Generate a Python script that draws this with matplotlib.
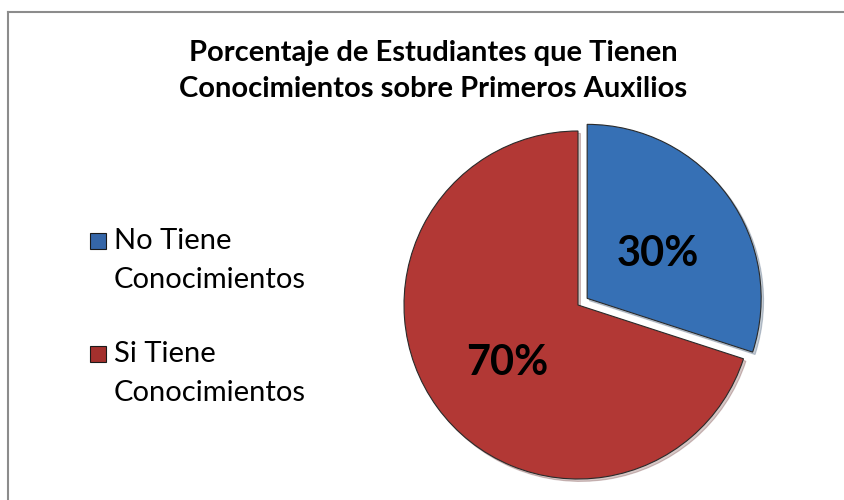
import matplotlib.pyplot as plt
from matplotlib.patches import Rectangle
from matplotlib.lines import Line2D

# data
labels = ['No Tiene\nConocimientos', 'Si Tiene\nConocimientos']
values = [30, 70]
colors = ['#3670B5', '#B23835']
legend_colors = ['#3566A8', '#A3302D']
title = 'Porcentaje de Estudiantes que Tienen\nConocimientos sobre Primeros Auxilios'

plt.rcParams['font.family'] = ['Lato', 'DejaVu Sans']

W, H = 844, 500
fig = plt.figure(figsize=(W / 100, H / 100), dpi=100)

# frame (only top and left are visible in the crop)
fig.add_artist(Line2D([8 / W, 8 / W], [0, 1 - 12 / H], color='#8c8c8c', lw=1.5))
fig.add_artist(Line2D([8 / W, 1], [1 - 12 / H, 1 - 12 / H], color='#8c8c8c', lw=1.5))

# pie axes: center (578, 305) px, radius 174 px
cx, cy, r = 578, 305, 174
half = 190
ax = fig.add_axes([(cx - half) / W, (H - cy - half) / H, 2 * half / W, 2 * half / H])
wedges, texts, autotexts = ax.pie(values, colors=colors, startangle=90, counterclock=False,
                                  explode=(0.065, 0), autopct='%1.0f%%', pctdistance=0.5,
                                  shadow={'ox': 0.01, 'oy': -0.01, 'shade': 0.5, 'alpha': 0.25},
                                  wedgeprops={'edgecolor': '#2a2a2a', 'linewidth': 0.8},
                                  textprops={'fontsize': 30, 'fontweight': 'bold', 'color': 'black'})
for t in autotexts:
    x, y = t.get_position()
    t.set_position((x, y - 0.04))
ax.set_xlim(-half / r, half / r)
ax.set_ylim(-half / r, half / r)
ax.set_aspect('equal')
ax.axis('off')

fig.text(433 / W, 1 - 71 / H, title, ha='center', va='center', fontsize=21,
         fontweight='bold', linespacing=1.5)

# legend
y0 = [241, 354]
for lab, col, y in zip(labels, legend_colors, y0):
    fig.add_artist(Rectangle((90 / W, 1 - (y + 8) / H), 16 / W, 16 / H, facecolor=col,
                             edgecolor='#1a1a1a', lw=0.8, transform=fig.transFigure))
    fig.text(114 / W, 1 - (y + 19.5) / H, lab, ha='left', va='center', fontsize=21,
             linespacing=1.6)

fig.savefig('out.png', dpi=100)
